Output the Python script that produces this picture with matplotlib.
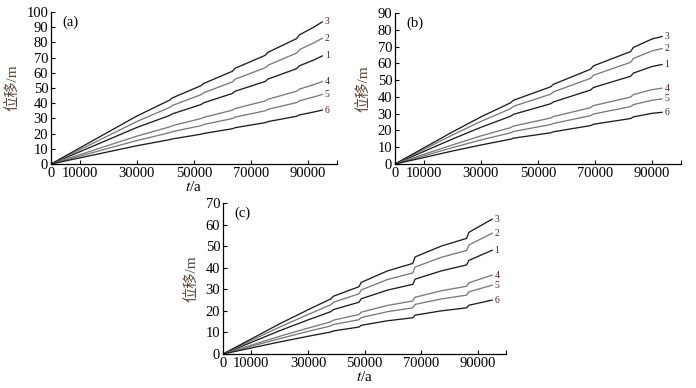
import numpy as np
import matplotlib
matplotlib.use('Agg')
import matplotlib.pyplot as plt

plt.rcParams['font.family'] = ['Liberation Serif', 'Noto Sans CJK SC', 'DejaVu Sans']
plt.rcParams['mathtext.fontset'] = 'stix'

# ---- data ----
curve_names = ['1', '2', '3', '4', '5', '6']

# panel (a)
x_a = [0, 10000, 20000, 30000, 41500, 42500, 52500, 53500, 63500, 64500,
       75000, 76000, 86000, 87000, 92000, 95000]
a1 = [0, 8, 16, 24, 31.9, 33, 39.1, 40.3, 46.4, 47.9, 54.3, 55.9, 62.7, 64.6, 68.4, 71.1]
a2 = [0, 9.3, 18.6, 27.9, 37.2, 38.5, 45.6, 46.9, 54, 55.8, 63.3, 65, 73, 75.2, 79.7, 82.7]
a3 = [0, 10.5, 21, 31.5, 42, 43.5, 51.5, 53, 61, 63, 71.5, 73.5, 82.5, 85, 90, 93.5]
a4 = [0, 6.1, 12.2, 18.3, 24.4, 25.2, 29.9, 30.7, 35.4, 36.5, 41.5, 42.6, 47.9, 49.3, 52.2, 54.2]
a5 = [0, 5.1, 10.3, 15.4, 20.6, 21.3, 25.2, 26, 29.9, 30.9, 35, 36, 40.4, 41.6, 44.1, 45.8]
a6 = [0, 4, 8, 12, 16, 16.5, 19.6, 20.1, 23.2, 23.9, 27.2, 27.9, 31.4, 32.3, 34.2, 35.5]

# panel (b)
x_b = [0, 10000, 20000, 30000, 40500, 41500, 54500, 55500, 68500, 69500,
       82500, 83500, 90000, 93500]
b1 = [0, 7.4, 14.8, 21.8, 28.5, 29.6, 35.9, 37, 44.1, 45.6, 52.3, 54.2, 58.1, 59.3]
b2 = [0, 8.6, 17.2, 25.3, 33, 34.4, 41.6, 43, 51.1, 52.9, 60.6, 62.9, 67.4, 68.8]
b3 = [0, 9.5, 19, 28, 36.5, 38, 46, 47.5, 56.5, 58.5, 67, 69.5, 74.5, 76]
b4 = [0, 5.7, 11.3, 16.7, 21.7, 22.6, 27.4, 28.3, 33.6, 34.8, 39.9, 41.4, 44.3, 45.2]
b5 = [0, 4.8, 9.7, 14.3, 18.6, 19.4, 23.5, 24.2, 28.8, 29.8, 34.2, 35.4, 38, 38.8]
b6 = [0, 3.8, 7.7, 11.3, 14.8, 15.4, 18.6, 19.2, 22.9, 23.7, 27.1, 28.1, 30.2, 30.8]

# panel (c)
x_c = [0, 10000, 20000, 30000, 38000, 39000, 48000, 48800, 58000, 67000,
       67800, 77000, 86000, 86800, 95000]
c1 = [0, 5.4, 10.8, 15.8, 19.6, 20.6, 24, 25.6, 29.6, 32.3, 34.7, 38.5, 41.3, 43.4, 48.1]
c2 = [0, 6.3, 12.5, 18.3, 22.8, 24, 27.9, 29.7, 34.5, 37.6, 40.3, 44.8, 48, 50.5, 56]
c3 = [0, 7, 14, 20.5, 25.5, 26.8, 31.2, 33.2, 38.5, 42, 45, 50, 53.6, 56.4, 62.5]
c4 = [0, 4.1, 8.2, 12, 14.9, 15.7, 18.3, 19.4, 22.5, 24.6, 26.3, 29.3, 31.4, 33, 36.6]
c5 = [0, 3.6, 7.1, 10.5, 13, 13.7, 15.9, 16.9, 19.6, 21.4, 23, 25.5, 27.3, 28.8, 31.9]
c6 = [0, 2.8, 5.6, 8.2, 10.2, 10.7, 12.5, 13.3, 15.4, 16.8, 18, 20, 21.4, 22.6, 25]

x_ticks = [0, 10000, 30000, 50000, 70000, 90000, 100000]
x_ticklabels = ['0', '10000', '30000', '50000', '70000', '90000', '']

line_colors = ['#1e1e1e', '#7a7a7a', '#1e1e1e', '#7a7a7a', '#7a7a7a', '#1e1e1e']
label_color = '#4a2418'

fig = plt.figure(figsize=(6.96, 3.88), dpi=100)

panels = [
    ('(a)', [0.0733, 0.5773, 0.4103, 0.3918], x_a, [a1, a2, a3, a4, a5, a6], 100, True),
    ('(b)', [0.5675, 0.5773, 0.4103, 0.3892], x_b, [b1, b2, b3, b4, b5, b6], 90, False),
    ('(c)', [0.3204, 0.0876, 0.4070, 0.3892], x_c, [c1, c2, c3, c4, c5, c6], 70, True),
]

for tag, rect, xs, ys, ymax, show_xlabel in panels:
    ax = fig.add_axes(rect)
    for name, y, col in zip(curve_names, ys, line_colors):
        ax.plot(xs, y, color=col, lw=0.95)
        ax.text(xs[-1] + 900, y[-1], name, fontsize=7, color=label_color,
                ha='left', va='center')
    ax.set_xlim(0, 100000)
    ax.set_ylim(0, ymax)
    ax.set_xticks(x_ticks)
    ax.set_xticklabels(x_ticklabels)
    ax.set_yticks(np.arange(0, ymax + 1, 10))
    ax.tick_params(axis='both', direction='in', length=3, width=0.8,
                   labelsize=10.5, pad=2)
    for s in ['top', 'right']:
        ax.spines[s].set_visible(False)
    for s in ['left', 'bottom']:
        ax.spines[s].set_linewidth(0.9)
    ax.text(0.04, 0.935, tag, transform=ax.transAxes, fontsize=10.5,
            ha='left', va='center')
    ax.set_ylabel('位移/m', fontsize=11, color='#5b4636', labelpad=5)
    if show_xlabel:
        ax.set_xlabel('$t$/a', fontsize=11, labelpad=0)

fig.savefig('out.png', dpi=100)
